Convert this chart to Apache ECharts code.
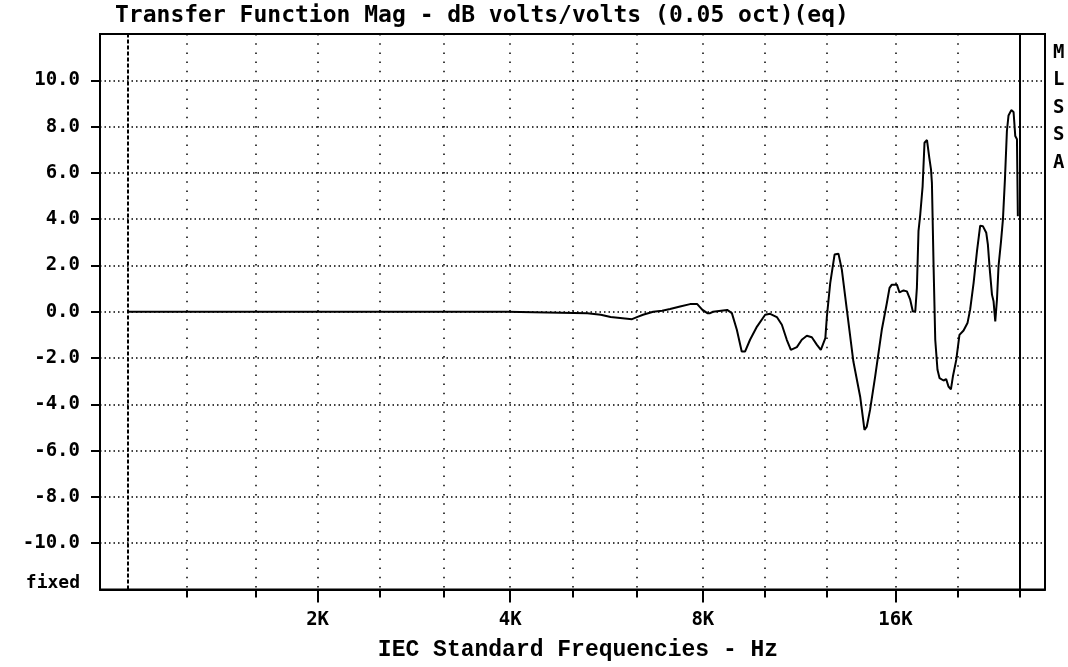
<!DOCTYPE html>
<html>
<head>
<meta charset="utf-8">
<script src="https://cdn.jsdelivr.net/npm/echarts@6/dist/echarts.min.js"></script>
<style>
html,body{margin:0;padding:0;background:#fff;}
#chart{width:1068px;height:667px;}
</style>
</head>
<body>
<div id="chart"></div>
<script>
// curve: frequency (Hz) and level (dB)
var freqHz = [1010, 3950, 5280, 5540, 5740, 6200, 6310, 6450, 6690, 6910,
  7110, 7370, 7640, 7840, 7980, 8130, 8210, 8300, 8730, 8880,
  9040, 9200, 9310, 9480, 9720, 10010, 10190, 10440, 10630, 10820,
  10980, 11220, 11420, 11630, 11840, 12060, 12230, 12430, 12500, 12650,
  12850, 13030, 13190, 13430, 13750, 14090, 14310, 14430, 14600, 14870,
  15230, 15510, 15660, 15790, 16080, 16230, 16470, 16670, 16870, 17030,
  17180, 17280, 17380, 17490, 17640, 17760, 17920, 18070, 18180, 18240,
  18350, 18460, 18610, 18750, 19020, 19200, 19360, 19530, 19670, 19910,
  20140, 20440, 20730, 20930, 21190, 21450, 21700, 21920, 22180, 22310,
  22440, 22640, 22770, 22910, 23050, 23180, 23390, 23550, 23720, 23890,
  24030, 24270, 24470, 24620, 24770, 24850];
var magDb = [0, 0, -0.06, -0.13, -0.23, -0.32, -0.23, -0.13, 0, 0.04,
  0.12, 0.23, 0.33, 0.33, 0.09, -0.06, -0.06, 0, 0.08, -0.06,
  -0.78, -1.72, -1.72, -1.21, -0.64, -0.13, -0.09, -0.23, -0.56, -1.21,
  -1.65, -1.53, -1.21, -1.04, -1.1, -1.43, -1.65, -1.14, -0.2, 1.24,
  2.47, 2.51, 1.82, 0.09, -2.15, -3.67, -5.1, -4.96, -4.24, -2.8,
  -0.78, 0.38, 1.03, 1.17, 1.17, 0.84, 0.92, 0.88, 0.52, 0.01,
  0.01, 1.03, 3.48, 4.2, 5.42, 7.3, 7.42, 6.65, 6.15, 5.57,
  1.96, -1.21, -2.51, -2.87, -2.97, -2.91, -3.23, -3.35, -2.8, -2.08,
  -1.0, -0.81, -0.49, 0.09, 1.24, 2.61, 3.72, 3.69, 3.41, 2.9,
  1.96, 0.74, 0.45, -0.42, 0.52, 1.96, 3.04, 3.98, 5.71, 7.81,
  8.48, 8.71, 8.63, 7.59, 7.45, 4.13];

// IEC third octave grid, labelled octaves, dB ticks
var gridFreqs = [1250, 1600, 2000, 2500, 3150, 4000, 5000, 6300, 8000, 10000, 12500, 16000, 20000, 25000];
var labelFreqs = [2000, 4000, 8000, 16000];
var dbTicks = [-10, -8, -6, -4, -2, 0, 2, 4, 6, 8, 10];
var dbLabels = [-12, -10, -8, -6, -4, -2, 0, 2, 4, 6, 8, 10];
var refLines = [1010, 25000];

var fMin = 914, fMax = 27400;

var points = [];
for (var i = 0; i < freqHz.length; i++) {
  points.push([freqHz[i], magDb[i]]);
}

var myChart = echarts.init(document.getElementById('chart'));
var option = {
  animation: false,
  backgroundColor: '#fff',
  title: [{
    text: 'Transfer Function Mag - dB volts/volts (0.05 oct)(eq)',
    left: 115, top: 5, padding: 0,
    textStyle: {fontFamily: 'DejaVu Sans Mono', fontWeight: 'bold', fontSize: 23, color: '#000'}
  }, {
    text: 'M\nL\nS\nS\nA',
    left: 1053, top: 39, padding: 0,
    textStyle: {fontFamily: 'DejaVu Sans Mono', fontWeight: 'bold', fontSize: 19, lineHeight: 27.5, color: '#000'}
  }],
  grid: {
    left: 100, right: 23, top: 34, bottom: 77.5,
    show: true, borderColor: '#000', borderWidth: 2,
    outerBoundsMode: 'none'
  },
  xAxis: [{
    type: 'log', logBase: 10, min: fMin, max: fMax,
    axisLine: {show: true, onZero: false, lineStyle: {color: '#000', width: 2}},
    axisTick: {show: true, customValues: gridFreqs, length: 8, lineStyle: {color: '#000', width: 2}},
    axisLabel: {show: false},
    minorTick: {show: false},
    splitLine: {show: true, lineStyle: {color: '#000', width: 1.5, type: [1.5, 7.7]}},
    name: 'IEC Standard Frequencies - Hz',
    nameLocation: 'middle', nameGap: 49,
    nameTextStyle: {fontFamily: 'Liberation Mono', fontWeight: 'bold', fontSize: 23, color: '#000', padding: [0, 0, 0, 11]}
  }, {
    type: 'log', logBase: 10, min: fMin, max: fMax, position: 'bottom',
    axisLine: {show: false, onZero: false},
    axisTick: {show: true, customValues: labelFreqs, length: 13, lineStyle: {color: '#000', width: 2}},
    axisLabel: {
      show: true, customValues: labelFreqs, margin: 21,
      fontFamily: 'DejaVu Sans Mono', fontWeight: 'bold', fontSize: 19, color: '#000',
      formatter: function (v) { return Math.round(v / 1000) + 'K'; }
    },
    splitLine: {show: false}
  }],
  yAxis: {
    type: 'value', min: -12, max: 12, interval: 2,
    axisLine: {show: true, lineStyle: {color: '#000', width: 2}},
    axisTick: {show: true, customValues: dbTicks, length: 9, lineStyle: {color: '#000', width: 2}},
    axisLabel: {
      customValues: dbLabels, margin: 20,
      fontFamily: 'DejaVu Sans Mono', fontWeight: 'bold', fontSize: 19, color: '#000',
      formatter: function (v) { return v === -12 ? '{f|fixed}' : v.toFixed(1); },
      rich: {f: {fontFamily: 'DejaVu Sans Mono', fontWeight: 'bold', fontSize: 18, color: '#000', padding: [0, 0, 12, 0]}}
    },
    splitLine: {show: true, lineStyle: {color: '#000', width: 1.5, type: [1.5, 3]}}
  },
  series: [{
    type: 'line',
    xAxisIndex: 0,
    data: points,
    showSymbol: false,
    lineStyle: {color: '#000', width: 2},
    markLine: {
      silent: true,
      symbol: ['none', 'none'],
      label: {show: false},
      data: [
        {xAxis: refLines[0], lineStyle: {color: '#000', type: [4, 2], width: 2}},
        {xAxis: refLines[1], lineStyle: {color: '#000', type: 'solid', width: 2}}
      ]
    }
  }]
};
myChart.setOption(option);
</script>
</body>
</html>
